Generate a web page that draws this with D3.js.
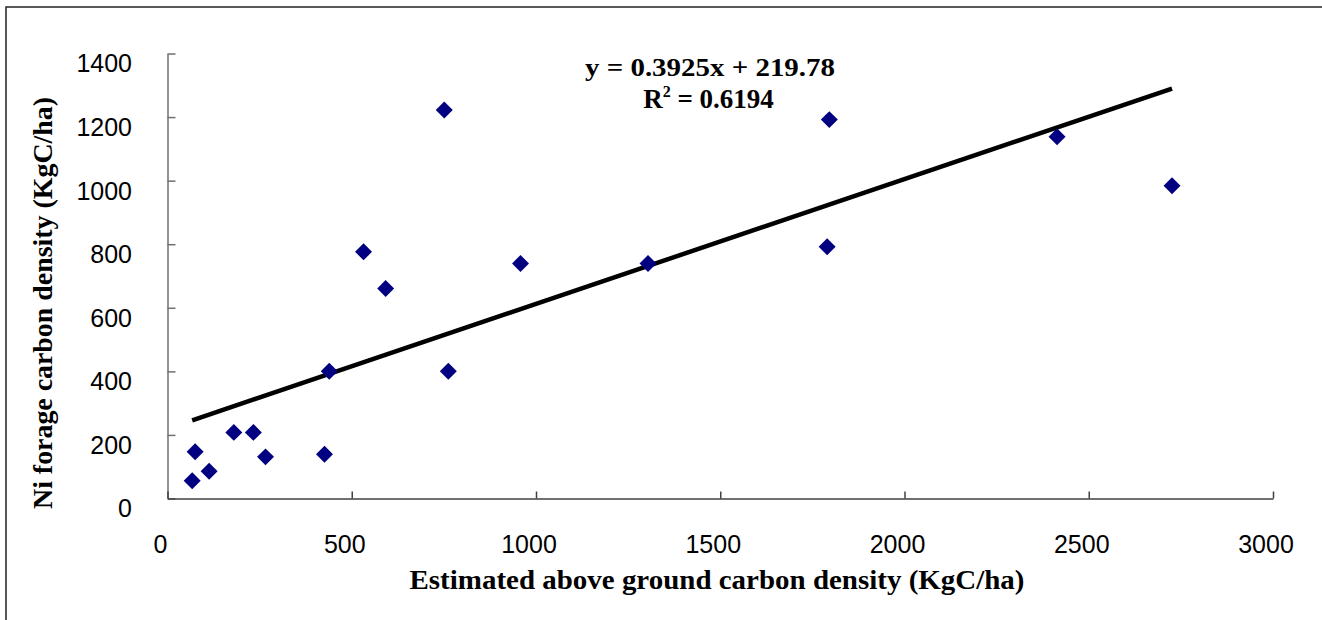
<!DOCTYPE html>
<html>
<head>
<meta charset="utf-8">
<script src="https://cdn.jsdelivr.net/npm/d3@7"></script>
<style>
  html, body { margin: 0; padding: 0; background: #fff; }
  svg { display: block; }
</style>
</head>
<body>
<svg id="chart" width="1322" height="620"></svg>
<script>
// ---- data ----
const xValues = [67, 75, 113, 180, 233, 266, 426, 439, 532, 592, 762, 751, 958, 1304, 1796, 1790, 2414, 2726];
const yValues = [56, 147, 86, 208, 208, 131, 139, 400, 776, 661, 400, 1222, 739, 739, 1192, 792, 1138, 984];
const xTicks = [0, 500, 1000, 1500, 2000, 2500, 3000];
const yTicks = [0, 200, 400, 600, 800, 1000, 1200, 1400];
const trendSlope = 0.3925;
const trendIntercept = 219.78;
const equationText = "y = 0.3925x + 219.78";
const r2Value = "0.6194";
const xTitle = "Estimated above ground carbon density (KgC/ha)";
const yTitle = "Ni forage carbon density (KgC/ha)";

const points = xValues.map((x, i) => ({ x, y: yValues[i] }));

const svg = d3.select("#chart");

// outer frame
svg.append("rect")
  .attr("x", 6).attr("y", 7)
  .attr("width", 1330).attr("height", 630)
  .attr("fill", "none").attr("stroke", "#222").attr("stroke-width", 1.5);

const x = d3.scaleLinear().domain([0, 3000]).range([167.5, 1273]);
const y = d3.scaleLinear().domain([0, 1400]).range([498.5, 53.5]);
const fmt = d3.format("d");

// y axis
const yAxis = svg.append("g")
  .attr("transform", `translate(${x(0)},0)`)
  .call(d3.axisLeft(y).tickValues(yTicks).tickFormat(fmt).tickSizeInner(-8).tickSizeOuter(0).tickPadding(35.5));
yAxis.select(".domain").attr("stroke", "#707070").attr("stroke-width", 1.5);
yAxis.selectAll(".tick line").attr("stroke", "#707070").attr("stroke-width", 1.5);
yAxis.selectAll(".tick text")
  .attr("dy", null).attr("y", 18.4)
  .attr("font-family", "'Liberation Sans', Arial, sans-serif")
  .attr("font-size", 25).attr("fill", "#000");

// x axis
const xAxis = svg.append("g")
  .attr("transform", `translate(0,${y(0)})`)
  .call(d3.axisBottom(x).tickValues(xTicks).tickFormat(fmt).tickSizeInner(-7).tickSizeOuter(0).tickPadding(0));
xAxis.select(".domain").attr("stroke", "#404040").attr("stroke-width", 1.5);
xAxis.selectAll(".tick line").attr("stroke", "#404040").attr("stroke-width", 1.5);
xAxis.selectAll(".tick text")
  .attr("dy", null).attr("y", 54).attr("x", -7.5)
  .attr("font-family", "'Liberation Sans', Arial, sans-serif")
  .attr("font-size", 25).attr("fill", "#000");

// trend line
const xMin = d3.min(xValues), xMax = d3.max(xValues);
const trend = [xMin, xMax].map(v => ({ x: v, y: trendSlope * v + trendIntercept }));
svg.append("path")
  .datum(trend)
  .attr("d", d3.line().x(d => x(d.x)).y(d => y(d.y)))
  .attr("stroke", "#000").attr("stroke-width", 4.5).attr("fill", "none");

// markers
svg.append("g").selectAll("path")
  .data(points)
  .join("path")
  .attr("d", d3.symbol(d3.symbolSquare, 144))
  .attr("transform", d => `translate(${x(d.x)},${y(d.y)}) rotate(45)`)
  .attr("fill", "#000080");

// equation text
const serif = "'Liberation Serif', 'Times New Roman', serif";
svg.append("text")
  .attr("x", 710).attr("y", 76)
  .attr("text-anchor", "middle")
  .attr("font-family", serif).attr("font-weight", "bold")
  .attr("font-size", 25)
  .attr("textLength", 250).attr("lengthAdjust", "spacingAndGlyphs")
  .text(equationText);

const r2 = svg.append("text")
  .attr("x", 708.5).attr("y", 108)
  .attr("text-anchor", "middle")
  .attr("font-family", serif).attr("font-weight", "bold")
  .attr("font-size", 27);
r2.append("tspan").text("R");
r2.append("tspan").attr("font-size", 16).attr("dy", -11).text("2");
r2.append("tspan").attr("dy", 11).text(" = " + r2Value);

// axis titles
svg.append("text")
  .attr("x", 717).attr("y", 589)
  .attr("text-anchor", "middle")
  .attr("font-family", serif).attr("font-weight", "bold")
  .attr("font-size", 27)
  .attr("textLength", 615).attr("lengthAdjust", "spacingAndGlyphs")
  .text(xTitle);

svg.append("text")
  .attr("transform", "translate(52,303) rotate(-90)")
  .attr("text-anchor", "middle")
  .attr("font-family", serif).attr("font-weight", "bold")
  .attr("font-size", 27)
  .attr("textLength", 412).attr("lengthAdjust", "spacingAndGlyphs")
  .text(yTitle);
</script>
</body>
</html>
